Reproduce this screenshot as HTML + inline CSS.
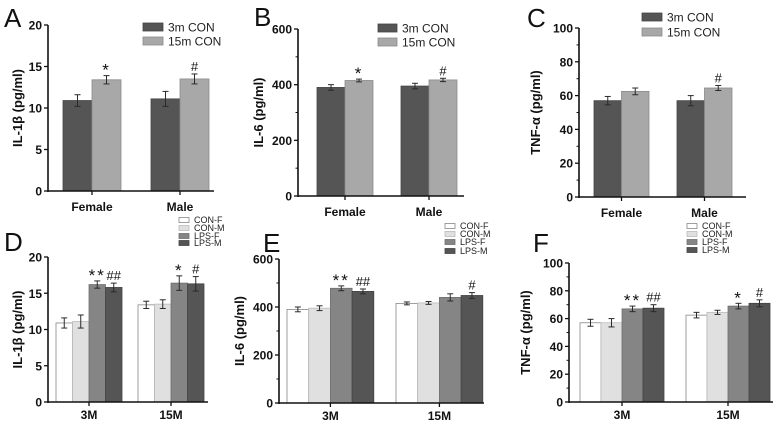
<!DOCTYPE html>
<html><head><meta charset="utf-8"><style>
body{margin:0;background:#fff;}
svg{display:block;font-family:"Liberation Sans",Arial,sans-serif;}
</style></head><body>
<svg id="fig" width="783" height="424" viewBox="0 0 783 424" xmlns="http://www.w3.org/2000/svg"></svg>
<script>
// Panel A: IL-1β
const catsTop = ["Female","Male"];
const seriesTop = ["3m CON","15m CON"];
const aVals3m = [10.9, 11.1], aErr3m = [0.7, 0.9];
const aVals15m = [13.4, 13.5], aErr15m = [0.5, 0.6];
const aTicks = [0,5,10,15,20];
const aMarks = [["","*"],["","#"]];
// Panel B: IL-6
const bVals3m = [390, 395], bErr3m = [10, 10];
const bVals15m = [415, 417], bErr15m = [5, 6];
const bTicks = [0,200,400,600];
const bMarks = [["","*"],["","#"]];
// Panel C: TNF-α
const cVals3m = [57, 57], cErr3m = [2.5, 3];
const cVals15m = [62.5, 64.5], cErr15m = [2, 1.5];
const cTicks = [0,20,40,60,80,100];
const cMarks = [["",""],["","#"]];
// Bottom panels
const catsBot = ["3M","15M"];
const seriesBot = ["CON-F","CON-M","LPS-F","LPS-M"];
const dConF = [10.9, 13.4], dConM = [11.1, 13.5], dLpsF = [16.2, 16.4], dLpsM = [15.8, 16.3];
const dErrConF = [0.7, 0.5], dErrConM = [0.9, 0.6], dErrLpsF = [0.5, 1.0], dErrLpsM = [0.6, 1.0];
const dMarks = [["","","**","##"],["","","*","#"]];
const eConF = [390, 415], eConM = [395, 417], eLpsF = [478, 440], eLpsM = [465, 448];
const eErrConF = [10, 6], eErrConM = [10, 6], eErrLpsF = [10, 15], eErrLpsM = [10, 12];
const eMarks = [["","","**","##"],["","","","#"]];
const fConF = [57, 62.5], fConM = [57, 64.5], fLpsF = [67, 69], fLpsM = [67.5, 71];
const fErrConF = [2.5, 2], fErrConM = [3, 1.5], fErrLpsF = [2, 2], fErrLpsM = [2.5, 2.5];
const fMarks = [["","","**","##"],["","","*","#"]];

const NS="http://www.w3.org/2000/svg";
const svg=document.getElementById('fig');
function mk(tag,attrs,parent,text){const e=document.createElementNS(NS,tag);for(const k in attrs)e.setAttribute(k,attrs[k]);if(text!==undefined)e.textContent=text;(parent||svg).appendChild(e);return e;}

function panel(p){
  const g=mk('g',{});
  
  
  const lt=mk('text',{x:p.letter[0],y:p.letter[1],'font-size':26,fill:'#111'},g,p.id);
  
  
  const ymax=p.ticks[p.ticks.length-1];
  const y=v=>p.y0-(v/ymax)*(p.y0-p.yTop);
  const nS=p.vals.length;
  for(let c=0;c<p.cats.length;c++){
    for(let s=0;s<nS;s++){
      const x0=p.gx[c]+s*p.bw;
      const v=p.vals[s][c], e=p.errs[s][c];
      const r=mk('rect',{x:x0,y:y(v),width:p.bw,height:p.y0-y(v),fill:p.colors[s],stroke:p.edge[s],'stroke-width':0.8},g);
      
      
      const cx=x0+p.bw/2, ec='#2a2a2a';
      mk('line',{x1:cx,x2:cx,y1:y(v+e),y2:y(v-e),stroke:ec,'stroke-width':1},g);
      mk('line',{x1:cx-3,x2:cx+3,y1:y(v+e),y2:y(v+e),stroke:ec,'stroke-width':1},g);
      mk('line',{x1:cx-3,x2:cx+3,y1:y(v-e),y2:y(v-e),stroke:ec,'stroke-width':1},g);
      const m=p.marks[c][s];
      if(m){const star=m.includes('*');
        const t=mk('text',{x:cx,y:y(v+e)-3+(star?3:0),'text-anchor':'middle','font-size':star?17:13,'letter-spacing':star?2:0,fill:'#111'},g,m);
        
        }
    }
  }
  mk('line',{x1:p.ax,x2:p.ax,y1:p.yTop,y2:p.y0+1,stroke:'#111','stroke-width':1.6},g);
  mk('line',{x1:p.ax,x2:p.axEnd,y1:p.y0,y2:p.y0,stroke:'#111','stroke-width':1.6},g);
  p.ticks.forEach(t=>{
    mk('line',{x1:p.ax-4,x2:p.ax,y1:y(t),y2:y(t),stroke:'#111','stroke-width':1.3},g);
    const tl=mk('text',{x:p.ax-6,y:y(t)+4.5,'text-anchor':'end','font-size':12,'font-weight':'bold',fill:'#111'},g,t);
    
    
  });
  if(p.minor){for(let i=0;i<p.ticks.length-1;i++){const mv=(p.ticks[i]+p.ticks[i+1])/2;mk('line',{x1:p.ax-2.5,x2:p.ax,y1:y(mv),y2:y(mv),stroke:'#111','stroke-width':1},g);}}
  for(let c=0;c<p.cats.length;c++){
    const cx=p.gx[c]+nS*p.bw/2;
    mk('line',{x1:cx,x2:cx,y1:p.y0,y2:p.y0+4,stroke:'#111','stroke-width':1.3},g);
    const cl=mk('text',{x:cx,y:p.catY,'text-anchor':'middle','font-size':12,'font-weight':'bold',fill:'#111'},g,p.cats[c]);
    
    
  }
  const yt=mk('text',{x:p.titleX,y:(p.yTop+p.y0)/2,'text-anchor':'middle','font-size':13,'font-weight':'bold',fill:'#111',transform:`rotate(-90 ${p.titleX} ${(p.yTop+p.y0)/2})`},g,p.title);
  
  
  p.series.forEach((s,i)=>{
    const lg=mk('g',{},g);
    
    
    const ly=p.leg.y[i];
    mk('rect',{x:p.leg.x,y:ly-p.leg.h/2,width:p.leg.w,height:p.leg.h,fill:p.colors[i],stroke:p.edge[i],'stroke-width':0.8},lg);
    mk('text',{x:p.leg.tx,y:ly+p.leg.fs*0.36,'font-size':p.leg.fs,fill:'#222'},lg,s);
  });
}
const topCol=['#555555','#a8a8a8'], topEdge=['#444','#8a8a8a'];
const botCol=['#ffffff','#e0e0e0','#858585','#555555'], botEdge=['#888','#bbb','#707070','#444'];
panel({id:'A',letter:[4,27],cats:catsTop,series:seriesTop,vals:[aVals3m,aVals15m],errs:[aErr3m,aErr15m],marks:aMarks,ticks:aTicks,minor:false,
  ax:48,axEnd:214,yTop:25,y0:191,gx:[63,151],bw:29,colors:topCol,edge:topEdge,catY:211,titleX:22,title:'IL-1β (pg/ml)',
  leg:{x:143,w:20,h:8,y:[27,41],tx:168,fs:12}});
panel({id:'B',letter:[254,26],cats:catsTop,series:seriesTop,vals:[bVals3m,bVals15m],errs:[bErr3m,bErr15m],marks:bMarks,ticks:bTicks,minor:true,
  ax:298,axEnd:464,yTop:29,y0:196,gx:[317,401],bw:28,colors:topCol,edge:topEdge,catY:216,titleX:263,title:'IL-6 (pg/ml)',
  leg:{x:378,w:19,h:8,y:[28,42],tx:402,fs:12}});
panel({id:'C',letter:[527,27],cats:catsTop,series:seriesTop,vals:[cVals3m,cVals15m],errs:[cErr3m,cErr15m],marks:cMarks,ticks:cTicks,minor:true,
  ax:579,axEnd:746,yTop:28,y0:197,gx:[594,677],bw:27.5,colors:topCol,edge:topEdge,catY:217,titleX:540,title:'TNF-α (pg/ml)',
  leg:{x:642,w:20,h:8,y:[17,32],tx:667,fs:12}});
panel({id:'D',letter:[4,251],cats:catsBot,series:seriesBot,vals:[dConF,dConM,dLpsF,dLpsM],errs:[dErrConF,dErrConM,dErrLpsF,dErrLpsM],marks:dMarks,ticks:aTicks,minor:false,
  ax:48,axEnd:208,yTop:257,y0:402,gx:[56,138],bw:16.5,colors:botCol,edge:botEdge,catY:419,titleX:22,title:'IL-1β (pg/ml)',
  leg:{x:179,w:10,h:5,y:[220,228,236,243],tx:194,fs:9}});
panel({id:'E',letter:[263,252],cats:catsBot,series:seriesBot,vals:[eConF,eConM,eLpsF,eLpsM],errs:[eErrConF,eErrConM,eErrLpsF,eErrLpsM],marks:eMarks,ticks:bTicks,minor:true,
  ax:279,axEnd:484,yTop:259,y0:403,gx:[287,396],bw:21.7,colors:botCol,edge:botEdge,catY:420,titleX:244,title:'IL-6 (pg/ml)',
  leg:{x:445,w:10,h:5,y:[226,234,242,251],tx:460,fs:9}});
panel({id:'F',letter:[533,252],cats:catsBot,series:seriesBot,vals:[fConF,fConM,fLpsF,fLpsM],errs:[fErrConF,fErrConM,fErrLpsF,fErrLpsM],marks:fMarks,ticks:cTicks,minor:true,
  ax:569,axEnd:773,yTop:263,y0:402,gx:[580,686],bw:21,colors:botCol,edge:botEdge,catY:419,titleX:530,title:'TNF-α (pg/ml)',
  leg:{x:687,w:10,h:5,y:[226,234,242,250],tx:702,fs:9}});
</script>
</body></html>
